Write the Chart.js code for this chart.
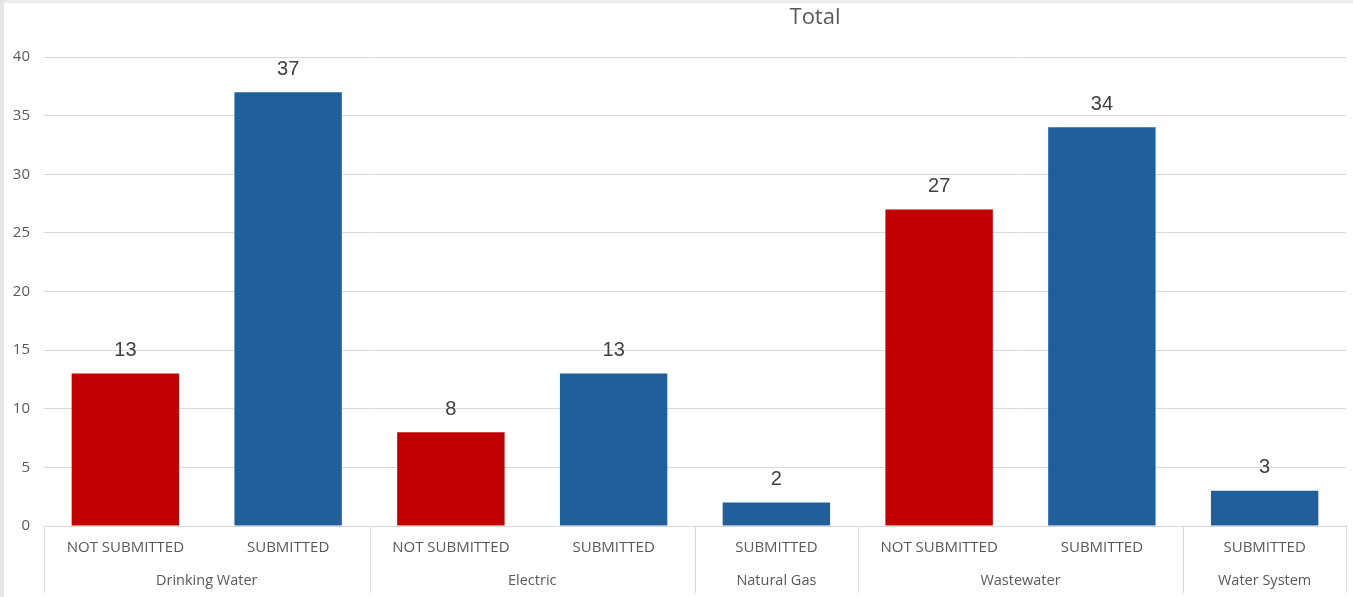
<!DOCTYPE html>
<html>
<head>
<meta charset="utf-8">
<script src="https://cdn.jsdelivr.net/npm/chart.js@4/dist/chart.umd.min.js"></script>
<style>
  html, body { margin: 0; padding: 0; background: #ffffff; }
  #wrap { position: relative; width: 1353px; height: 597px; background: #ffffff; }
  #edgeTop { position: absolute; left: 0; top: 0; width: 1353px; height: 3px; background: #ececec; }
  #edgeLeft { position: absolute; left: 0; top: 0; width: 4px; height: 597px; background: #e6e6e6; }
  canvas { position: absolute; left: 0; top: 0; }
</style>
</head>
<body>
<div id="wrap">
  <canvas id="c" width="1353" height="597"></canvas>
  <div id="edgeTop"></div>
  <div id="edgeLeft"></div>
</div>
<script>
// ---- data ----
const statusLabels = ["NOT SUBMITTED", "SUBMITTED", "NOT SUBMITTED", "SUBMITTED", "SUBMITTED", "NOT SUBMITTED", "SUBMITTED", "SUBMITTED"];
const groupLabels  = ["Drinking Water", "Drinking Water", "Electric", "Electric", "Natural Gas", "Wastewater", "Wastewater", "Water System"];
const totals       = [13, 37, 8, 13, 2, 27, 34, 3];
const yTicks       = [0, 5, 10, 15, 20, 25, 30, 35, 40];
const chartTitle   = "Total";

const RED = "#C00000", BLUE = "#215F9A";
const barColors = statusLabels.map(s => s === "SUBMITTED" ? BLUE : RED);

const GRID = "#d9d9d9", TEXT = "#595959";

const overlay = {
  id: "overlay",
  afterDatasetsDraw(chart) {
    const ctx = chart.ctx;
    const xs = chart.scales.x;
    const area = chart.chartArea;
    const n = statusLabels.length;
    const slot = (area.right - area.left) / n;
    ctx.save();
    // data labels
    ctx.fillStyle = "#404040";
    ctx.font = "20px 'Liberation Sans', Arial, sans-serif";
    ctx.textAlign = "center";
    ctx.textBaseline = "bottom";
    const meta = chart.getDatasetMeta(0);
    meta.data.forEach((bar, i) => {
      ctx.fillText(String(totals[i]), bar.x, bar.y - 13);
    });
    // inner category labels
    ctx.fillStyle = TEXT;
    ctx.font = "15px 'Open Sans', 'Liberation Sans', sans-serif";
    ctx.textBaseline = "middle";
    for (let i = 0; i < n; i++) {
      ctx.fillText(statusLabels[i], xs.getPixelForValue(i), 548);
    }
    // group labels and separators
    ctx.font = "14.5px 'Open Sans', 'Liberation Sans', sans-serif";
    ctx.strokeStyle = GRID;
    ctx.lineWidth = 1;
    let start = 0;
    const drawSep = (px) => {
      const xx = Math.round(px) + 0.5;
      ctx.beginPath(); ctx.moveTo(xx, area.bottom); ctx.lineTo(xx, 593); ctx.stroke();
    };
    drawSep(xs.getPixelForValue(0) - slot / 2);
    for (let i = 1; i <= n; i++) {
      if (i === n || groupLabels[i] !== groupLabels[start]) {
        const left = xs.getPixelForValue(start) - slot / 2;
        const right = xs.getPixelForValue(i - 1) + slot / 2;
        ctx.fillText(groupLabels[start], (left + right) / 2, 581);
        drawSep(right);
        start = i;
      }
    }
    // title
    ctx.fillStyle = TEXT;
    ctx.font = "22px 'Open Sans', 'Liberation Sans', sans-serif";
    ctx.fillText(chartTitle, 815, 18);
    ctx.restore();
  }
};

new Chart(document.getElementById("c"), {
  type: "bar",
  data: {
    labels: statusLabels,
    datasets: [{
      data: totals,
      backgroundColor: barColors,
      borderWidth: 0,
      barPercentage: 0.66,
      categoryPercentage: 1.0
    }]
  },
  options: {
    responsive: false,
    animation: false,
    devicePixelRatio: 1,
    layout: { padding: { top: 57, bottom: 71, left: 0, right: 7 } },
    plugins: { legend: { display: false }, title: { display: false }, tooltip: { enabled: false } },
    scales: {
      x: {
        grid: { display: false, drawTicks: false },
        border: { display: true, color: GRID, width: 1 },
        ticks: { display: false }
      },
      y: {
        min: 0, max: 40,
        afterFit(scale) { scale.width = 44; },
        afterBuildTicks(scale) { scale.ticks = yTicks.map(v => ({ value: v })); },
        grid: { color: GRID, lineWidth: 1, drawTicks: false },
        border: { display: false },
        ticks: {
          color: TEXT, padding: 14,
          font: { family: "'Open Sans', 'Liberation Sans', sans-serif", size: 15 }
        }
      }
    }
  },
  plugins: [overlay]
});
</script>
</body>
</html>
